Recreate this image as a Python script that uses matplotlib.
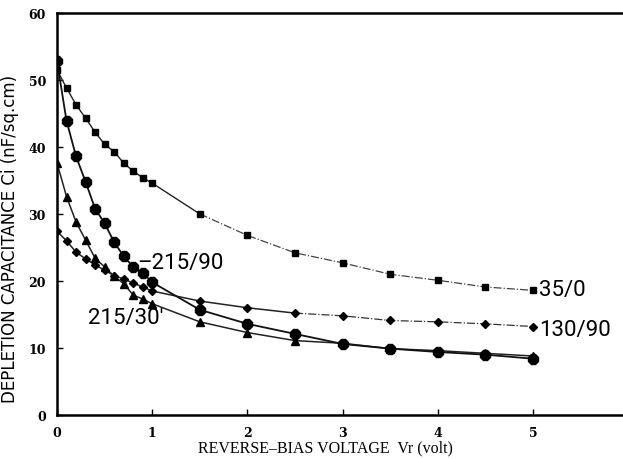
import numpy as np
import matplotlib
matplotlib.use('Agg')
import matplotlib.pyplot as plt


# Reverse-bias voltage (volt)
volts = [0, 0.1, 0.2, 0.3, 0.4, 0.5, 0.6, 0.7, 0.8, 0.9, 1.0,
         1.5, 2.0, 2.5, 3.0, 3.5, 4.0, 4.5, 5.0]

# Depletion capacitance (nF/sq.cm) for each sample
cap_35_0 = [51.5, 48.8, 46.3, 44.3, 42.2, 40.4, 39.3, 37.6, 36.4, 35.4, 34.6,
            30.0, 26.8, 24.2, 22.7, 21.0, 20.1, 19.1, 18.6]
cap_215_90 = [52.8, 43.9, 38.6, 34.8, 30.8, 28.6, 25.8, 23.7, 22.1, 21.2, 19.8,
              15.7, 13.6, 12.1, 10.6, 9.9, 9.4, 9.0, 8.4]
cap_215_30 = [37.6, 32.6, 28.8, 26.1, 23.4, 22.1, 20.7, 19.6, 17.9, 17.3, 16.6,
              13.9, 12.3, 11.1, 10.7, 9.9, 9.6, 9.2, 8.8]
cap_130_90 = [27.4, 26.0, 24.3, 23.3, 22.4, 21.6, 20.8, 20.3, 19.7, 19.1, 18.5,
              17.0, 16.0, 15.2, 14.8, 14.1, 13.9, 13.6, 13.2]

x = np.array(volts)
n_solid = 12  # points up to 1.5 V drawn with a solid line

fig = plt.figure(figsize=(6.23, 4.6), dpi=100)
ax = fig.add_axes([0.0915, 0.0957, 0.9085, 0.874])

# 35/0 : squares, solid then dash-dot
ax.plot(x[:n_solid], cap_35_0[:n_solid], color='#222', lw=1.0)
ax.plot(x[n_solid - 1:], cap_35_0[n_solid - 1:], color='#444', lw=0.9, ls='-.')
ax.plot(x, cap_35_0, ls='none', marker='s', ms=5, color='black')

# 130/90 : small diamonds
ax.plot(x[:n_solid + 2], cap_130_90[:n_solid + 2], color='#222', lw=1.1)
ax.plot(x[n_solid + 1:], cap_130_90[n_solid + 1:], color='#333', lw=0.9, ls='-.')
ax.plot(x, cap_130_90, ls='none', marker='D', ms=4, color='black')

# 215/30 : triangles
ax.plot(x, cap_215_30, color='#222', lw=1.1, marker='^', ms=5.5, mfc='black', mec='black')

# 215/90 : large octagons
ax.plot(x, cap_215_90, color='#111', lw=1.3, marker='8', ms=8.5, mfc='black', mec='black')

ax.set_xlim(0, 5.945)
ax.set_ylim(0, 60)
ax.set_xticks([0, 1, 2, 3, 4, 5])
ax.set_yticks([0, 10, 20, 30, 40, 50, 60])
ax.spines['right'].set_visible(False)
for s in ['left', 'bottom', 'top']:
    ax.spines[s].set_linewidth(1.8)
ax.tick_params(direction='in', length=4, width=1)
ax.tick_params(axis='x', pad=8)
ax.tick_params(axis='y', pad=8)
for lab in ax.get_xticklabels() + ax.get_yticklabels():
    lab.set_family('DejaVu Serif')
    lab.set_fontweight('bold')
    lab.set_fontsize(9)

ax.set_xlabel('REVERSE\u2013BIAS VOLTAGE  Vr (volt)', family='Liberation Serif',
              fontsize=11.5)
ax.xaxis.set_label_coords(0.475, -0.06)
ax.set_ylabel('DEPLETION CAPACITANCE Ci (nF/sq.cm)', family='DejaVu Sans',
              fontsize=12)
ax.yaxis.set_label_coords(-0.068, 0.44)

label_font = dict(family=['Roboto', 'DejaVu Sans'], fontsize=16, color='black',
                  va='center', ha='left')
ax.text(0.84, 22.8, '\u2013215/90', **label_font)
ax.text(0.33, 14.6, '215/30\u2032', **label_font)
ax.text(5.06, 18.8, '35/0', **label_font)
ax.text(5.06, 12.8, '130/90', **label_font)

fig.savefig('out.png', dpi=100)
